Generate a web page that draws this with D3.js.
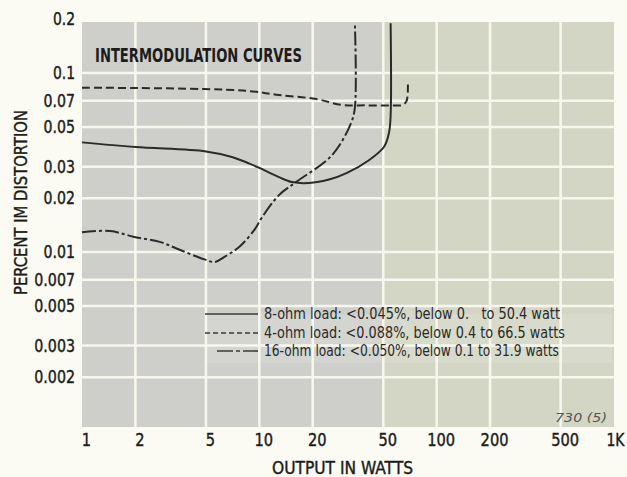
<!DOCTYPE html>
<html>
<head>
<meta charset="utf-8">
<script src="https://cdn.jsdelivr.net/npm/d3@7"></script>
<style>
  body { margin: 0; background: #fbfbf3; }
  svg text { font-family: "DejaVu Sans Condensed", "DejaVu Sans", sans-serif; font-stretch: condensed; fill: #1c1c1c; }
  .heavy { stroke: #1c1c1c; stroke-width: 0.4px; }
</style>
</head>
<body>
<div id="chart"></div>
<script>
// values
const xTicks = [1, 2, 5, 10, 20, 50, 100, 200, 500, 1000];
const xLabels = ["1", "2", "5", "10", "20", "50", "100", "200", "500", "1K"];
const yTicks = [0.2, 0.1, 0.07, 0.05, 0.03, 0.02, 0.01, 0.007, 0.005, 0.003, 0.002];
const yLabels = ["0.2", "0.1", "0.07", "0.05", "0.03", "0.02", "0.01", "0.007", "0.005", "0.003", "0.002"];

const watts8 = [1, 2, 5, 7, 8.8, 10, 12.9, 15.3, 19, 25, 31, 41.5, 50.4, 53.8, 55, 55];
const im8 = [0.041, 0.0386, 0.0365, 0.034, 0.0312, 0.0295, 0.0262, 0.0246, 0.0243, 0.0255, 0.0276, 0.0326, 0.0386, 0.0462, 0.058, 0.19];

const watts4 = [1, 2, 4.9, 8.8, 12.9, 20.9, 29.3, 40, 55, 64, 67.5, 68.7, 68.8];
const im4 = [0.0828, 0.0825, 0.0814, 0.0793, 0.0754, 0.0716, 0.0663, 0.066, 0.066, 0.0663, 0.0695, 0.078, 0.089];

const watts16 = [1, 1.44, 2, 2.74, 3.55, 4.9, 5.6, 6.36, 7.72, 9.37, 10.3, 12.9, 16.1, 25.7, 32.9, 34.6, 34.6];
const im16 = [0.0129, 0.0131, 0.0121, 0.0114, 0.0103, 0.0091, 0.0088, 0.0094, 0.0107, 0.0133, 0.0155, 0.0208, 0.0246, 0.0348, 0.0526, 0.0646, 0.185];

const legendLabels = [
    "8-ohm load: <0.045%, below 0.   to 50.4 watt",
    "4-ohm load: <0.088%, below 0.4 to 66.5 watts",
    "16-ohm load: <0.050%, below 0.1 to 31.9 watts"
];

const width = 627, height = 477;
const svg = d3.select("#chart").append("svg")
    .attr("width", width)
    .attr("height", height);

const x = d3.scaleLog().domain([1, 1000]).range([82, 614]);
const y = d3.scaleLog().domain([0.001, 0.2]).range([431, 19.2]);

const plotTop = 22, plotBottom = 427;

// plot background (scan is grey on the left, greenish on the right)
svg.append("rect")
    .attr("x", x(1)).attr("y", plotTop)
    .attr("width", x(50) - x(1)).attr("height", plotBottom - plotTop)
    .attr("fill", "#cecfcb");
svg.append("rect")
    .attr("x", x(50)).attr("y", plotTop)
    .attr("width", x(1000) - x(50)).attr("height", plotBottom - plotTop)
    .attr("fill", "#d3d6c4");
// lighter band behind the legend
svg.append("rect")
    .attr("x", x(5)).attr("y", y(0.0045))
    .attr("width", x(1000) - x(5) - 2).attr("height", y(0.0024) - y(0.0045))
    .attr("fill", "#ffffff").attr("opacity", 0.12);

// grid
const grid = svg.append("g").attr("stroke", "#f7f7ee").attr("stroke-width", 2.5);
grid.selectAll("line.v")
    .data(xTicks.filter(d => d > 1 && d < 1000))
    .join("line")
    .attr("class", "v")
    .attr("x1", d => x(d)).attr("x2", d => x(d))
    .attr("y1", plotTop).attr("y2", plotBottom);
grid.selectAll("line.h")
    .data(yTicks.filter(d => d < 0.2))
    .join("line")
    .attr("class", "h")
    .attr("x1", x(1)).attr("x2", x(1000))
    .attr("y1", d => y(d)).attr("y2", d => y(d));

// axes
const charW = s => s.replace(/\./g, "").length * 9.3 + (s.split(".").length - 1) * 3.5;

const yAxis = svg.append("g")
    .attr("transform", `translate(${x(1)},0)`)
    .call(d3.axisLeft(y).tickValues(yTicks).tickSize(0).tickPadding(7)
        .tickFormat((d, i) => yLabels[i]));
yAxis.select(".domain").remove();
yAxis.selectAll("text")
    .attr("class", "heavy")
    .style("font-size", "18px")
    .attr("fill", "#1c1c1c")
    .attr("textLength", (d, i) => charW(yLabels[i]))
    .attr("lengthAdjust", "spacingAndGlyphs");

const xAxis = svg.append("g")
    .attr("transform", `translate(0,${plotBottom})`)
    .call(d3.axisBottom(x).tickValues(xTicks).tickSize(0).tickPadding(6)
        .tickFormat((d, i) => xLabels[i]));
xAxis.select(".domain").remove();
xAxis.selectAll("text")
    .attr("class", "heavy")
    .style("font-size", "18px")
    .attr("fill", "#1c1c1c")
    .attr("dx", (d, i) => xLabels[i] === "1K" ? 1 : 4)
    .attr("textLength", (d, i) => xLabels[i] === "1K" ? 18 : charW(xLabels[i]))
    .attr("lengthAdjust", "spacingAndGlyphs");

// titles
svg.append("text")
    .attr("x", 95).attr("y", 62)
    .style("font-size", "20px").style("font-weight", "bold")
    .attr("textLength", 207).attr("lengthAdjust", "spacingAndGlyphs")
    .text("INTERMODULATION CURVES");

svg.append("text")
    .attr("class", "heavy")
    .attr("transform", "translate(27,202.5) rotate(-90)")
    .attr("text-anchor", "middle")
    .style("font-size", "17px")
    .attr("textLength", 185).attr("lengthAdjust", "spacingAndGlyphs")
    .text("PERCENT IM DISTORTION");

svg.append("text")
    .attr("class", "heavy")
    .attr("x", 342.5).attr("y", 474)
    .attr("text-anchor", "middle")
    .style("font-size", "18px")
    .attr("textLength", 141).attr("lengthAdjust", "spacingAndGlyphs")
    .text("OUTPUT IN WATTS");

svg.append("text")
    .attr("x", 555).attr("y", 422)
    .style("font-size", "13px").style("font-style", "italic")
    .style("fill", "#555")
    .attr("textLength", 52).attr("lengthAdjust", "spacingAndGlyphs")
    .text("730 (5)");

// curves
const series = [
    { xs: watts8, ys: im8, dash: null },
    { xs: watts4, ys: im4, dash: "8,4" },
    { xs: watts16, ys: im16, dash: "14,3,3,3" }
];

const line = d3.line()
    .x(d => x(d[0]))
    .y(d => y(d[1]))
    .curve(d3.curveCatmullRom.alpha(0.5));

svg.append("g").selectAll("path")
    .data(series)
    .join("path")
    .attr("d", s => line(s.xs.map((v, i) => [v, s.ys[i]])))
    .attr("fill", "none")
    .attr("stroke", "#2a2a2a")
    .attr("stroke-width", 2)
    .attr("stroke-dasharray", s => s.dash);

// legend
const legendY = [314, 333, 351];
const legendX1 = [205, 205, 217];
const legendTextW = [296, 301, 295];
const leg = svg.append("g");
leg.selectAll("line")
    .data(series)
    .join("line")
    .attr("x1", (d, i) => legendX1[i]).attr("x2", 258)
    .attr("y1", (d, i) => legendY[i]).attr("y2", (d, i) => legendY[i])
    .attr("stroke", "#3a3a3a")
    .attr("stroke-width", 1.6)
    .attr("stroke-dasharray", (d, i) => i === 1 ? "5,3" : i === 2 ? "16,3,4,3" : null);
leg.selectAll("text")
    .data(legendLabels)
    .join("text")
    .attr("x", 264)
    .attr("y", (d, i) => legendY[i] + 5)
    .style("font-size", "15px")
    .style("white-space", "pre")
    .style("fill", "#2a2a2a")
    .attr("textLength", (d, i) => legendTextW[i])
    .attr("lengthAdjust", "spacingAndGlyphs")
    .text(d => d);
</script>
</body>
</html>
